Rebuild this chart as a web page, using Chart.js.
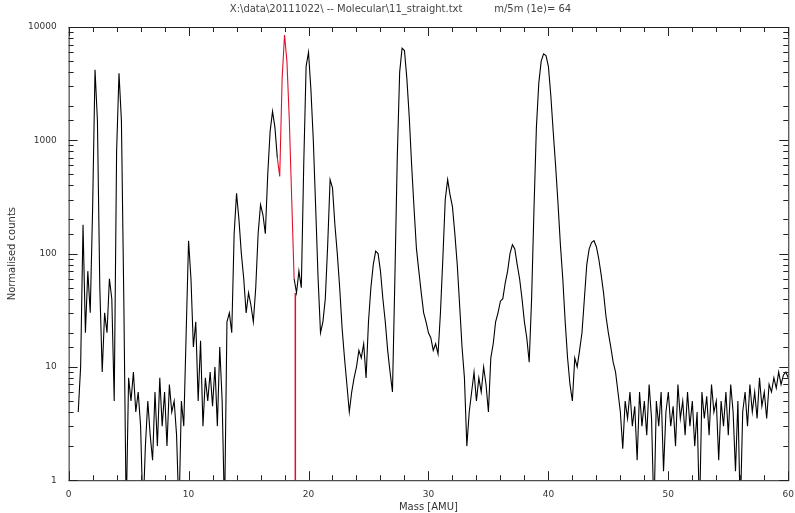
<!DOCTYPE html>
<html>
<head>
<meta charset="utf-8">
<script src="https://cdn.jsdelivr.net/npm/chart.js@4.4.1/dist/chart.umd.min.js"></script>
<style>
  html, body { margin: 0; padding: 0; background: #fff; }
  #wrap { width: 795px; height: 513px; }
</style>
</head>
<body>
<div id="wrap"><canvas id="spectrum"></canvas></div>
<script>
// mass grid: first sample and spacing (AMU)
const massStart = 0.8;
const massStep = 0.2;

// counts per sample, one line per AMU
// 0.5 = empty channel, falls below the axis and gets clipped
const counts = [
    4,
    10, 180, 20, 70, 30,
    250, 4200, 1500, 50, 9,
    30, 20, 60, 40, 5,
    800, 3900, 1500, 40, 0.5,
    8, 5, 9, 4, 6,
    3, 0.5, 2, 5, 2.5,
    1.5, 6, 2, 8, 3,
    6, 2, 7, 4, 5,
    2.5, 0.5, 5, 3, 20,
    130, 60, 15, 25, 5,
    17, 3, 8, 5, 9,
    4.5, 10, 3, 15, 5,
    0.5, 25, 30, 20, 150,
    340, 200, 100, 60, 30,
    45, 35, 25, 50, 150,
    270, 220, 150, 500, 1200,
    1800, 1300, 700, 480, 3500,
    8500, 5000, 1500, 300, 60,
    45, 70, 50, 600, 4500,
    6000, 2800, 1000, 250, 60,
    20, 25, 40, 120, 450,
    380, 180, 100, 50, 22,
    12, 7, 4, 6, 8,
    10, 14, 12, 16, 8,
    25, 50, 80, 105, 100,
    70, 40, 25, 14, 9,
    6, 60, 700, 4000, 6500,
    6200, 3500, 1600, 600, 250,
    110, 70, 45, 30, 25,
    20, 18, 14, 16, 13,
    30, 90, 300, 450, 330,
    260, 150, 80, 35, 15,
    8, 2, 4, 6, 9,
    5, 8, 6, 10, 7,
    4, 12, 16, 25, 30,
    38, 40, 55, 70, 100,
    120, 110, 80, 60, 40,
    25, 18, 11, 40, 250,
    1300, 3200, 5000, 5800, 5600,
    4500, 2500, 1200, 600, 280,
    120, 60, 25, 12, 7,
    5, 12, 10, 14, 20,
    40, 80, 110, 125, 130,
    115, 90, 65, 45, 28,
    20, 15, 11, 9, 6,
    4, 1.9, 5, 3.5, 6,
    3, 4.5, 1.5, 6, 3,
    5, 2.5, 7, 3.5, 0.5,
    5, 3, 6, 1.2, 4,
    6, 3, 4.5, 2, 7,
    3.5, 5, 2.5, 6, 3,
    5, 2, 4, 0.5, 6,
    3.5, 5.5, 2.5, 7, 4,
    5, 1.5, 5, 3, 6,
    2.5, 7, 4, 1.2, 5,
    0.5, 4, 6, 3, 7,
    4, 6, 3.5, 8, 4.5,
    6, 3.5, 7, 6, 8,
    6.5, 9, 7, 8.5, 9,
    8
];

// highlighted window (drawn red) and the red marker line
const redFrom = 17.4;
const redTo = 18.8;
const markerMass = [18.9, 18.9];
const markerCounts = [0.5, 45];

const xTickLabels = [0, 10, 20, 30, 40, 50, 60];
const yTickLabels = [1, 10, 100, 1000, 10000];

const points = counts.map((c, i) => ({
    x: +(massStart + i * massStep).toFixed(2),
    y: c
}));

// IDL style frame: box round the plot, ticks pointing inwards
const framePlugin = {
    id: 'idlFrame',
    afterDraw(chart) {
        const { ctx, chartArea } = chart;
        const xs = chart.scales.x;
        const ys = chart.scales.y;
        ctx.save();
        ctx.strokeStyle = '#222';
        ctx.lineWidth = 1;
        ctx.strokeRect(chartArea.left + 0.5, chartArea.top + 0.5,
            chartArea.right - chartArea.left, chartArea.bottom - chartArea.top);

        ctx.beginPath();
        xs.ticks.forEach(t => {
            const px = Math.round(xs.getPixelForValue(t.value)) + 0.5;
            const len = xTickLabels.includes(t.value) ? 9 : 5;
            ctx.moveTo(px, chartArea.bottom);
            ctx.lineTo(px, chartArea.bottom - len);
            ctx.moveTo(px, chartArea.top);
            ctx.lineTo(px, chartArea.top + len);
        });
        ys.ticks.forEach(t => {
            const py = Math.round(ys.getPixelForValue(t.value)) + 0.5;
            const len = yTickLabels.includes(t.value) ? 9 : 5;
            ctx.moveTo(chartArea.left, py);
            ctx.lineTo(chartArea.left + len, py);
            ctx.moveTo(chartArea.right, py);
            ctx.lineTo(chartArea.right - len, py);
        });
        ctx.stroke();
        ctx.restore();
    }
};

new Chart(document.getElementById('spectrum'), {
    type: 'line',
    data: {
        datasets: [{
            data: points,
            borderColor: '#000',
            borderWidth: 1.1,
            pointRadius: 0,
            tension: 0,
            segment: {
                borderColor: c => (c.p0.parsed.x >= redFrom && c.p1.parsed.x <= redTo) ? '#e0102a' : '#000'
            }
        }, {
            data: markerMass.map((m, i) => ({ x: m, y: markerCounts[i] })),
            borderColor: '#e0102a',
            borderWidth: 1.5,
            pointRadius: 0
        }]
    },
    options: {
        responsive: true,
        maintainAspectRatio: false,
        animation: false,
        layout: { padding: { left: 6, right: 0, top: 0, bottom: 0 } },
        plugins: {
            legend: { display: false },
            tooltip: { enabled: false },
            title: {
                display: true,
                text: 'X:\\data\\20111022\\ -- Molecular\\11_straight.txt          m/5m (1e)= 64',
                color: '#444',
                font: { family: 'DejaVu Sans', size: 10, weight: 'normal' },
                padding: { top: 3, bottom: 12 }
            }
        },
        scales: {
            x: {
                type: 'linear',
                min: 0,
                max: 60,
                grid: { display: false },
                border: { display: false },
                ticks: {
                    stepSize: 2,
                    autoSkip: false,
                    maxRotation: 0,
                    color: '#333',
                    padding: 1,
                    font: { family: 'DejaVu Sans', size: 9 },
                    callback: v => xTickLabels.includes(v) ? String(v) : ''
                },
                title: {
                    display: true,
                    text: 'Mass [AMU]',
                    color: '#333',
                    font: { family: 'DejaVu Sans', size: 10 },
                    padding: { top: 0, bottom: 0 }
                }
            },
            y: {
                type: 'logarithmic',
                min: 1,
                max: 10000,
                grid: { display: false },
                border: { display: false },
                ticks: {
                    autoSkip: false,
                    color: '#333',
                    padding: 4,
                    font: { family: 'DejaVu Sans', size: 9 },
                    callback: v => yTickLabels.includes(v) ? String(v) : ''
                },
                title: {
                    display: true,
                    text: 'Normalised counts',
                    color: '#333',
                    font: { family: 'DejaVu Sans', size: 10 },
                    padding: { top: 0, bottom: 6 }
                }
            }
        }
    },
    plugins: [framePlugin]
});
</script>
</body>
</html>
